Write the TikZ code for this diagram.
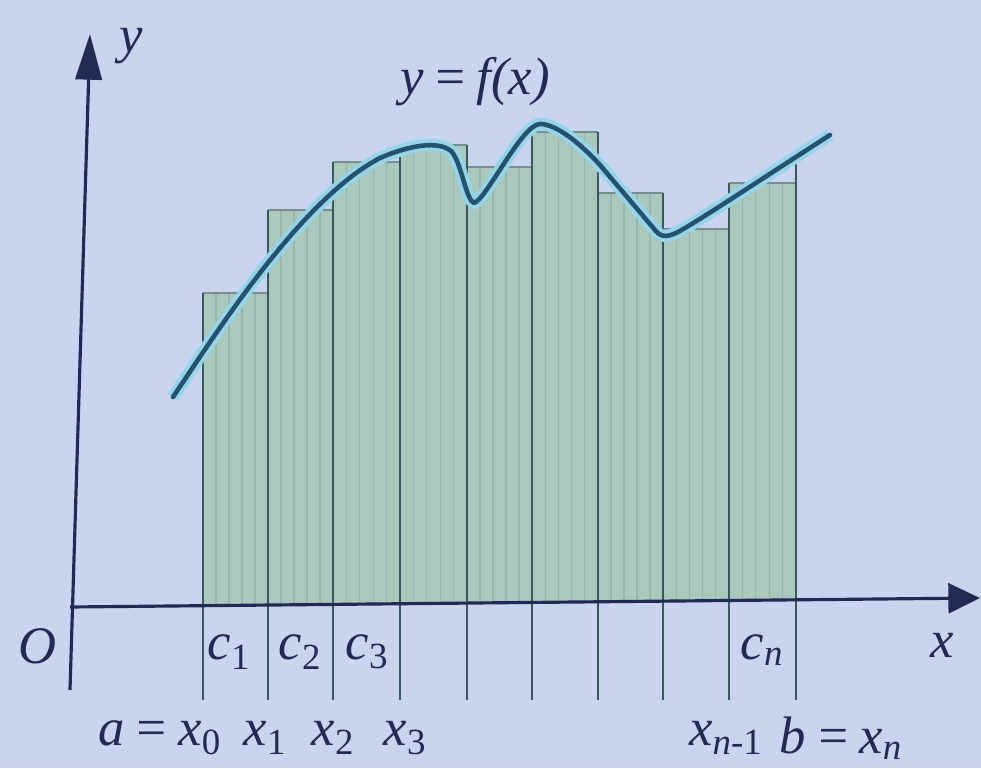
\documentclass[tikz,border=0pt]{standalone}
\usepackage{fontspec}
\setmainfont{Liberation Serif}
\usetikzlibrary{arrows.meta}
\definecolor{bgcol}{RGB}{201,213,239}
\definecolor{fillcol}{RGB}{170,201,188}
\definecolor{finecol}{RGB}{150,184,172}
\definecolor{edgecol}{RGB}{120,140,150}
\definecolor{divcol}{RGB}{55,88,92}
\definecolor{inkcol}{RGB}{32,42,82}
\definecolor{curvecol}{RGB}{36,82,112}
\definecolor{glowcol}{RGB}{150,212,232}

\begin{document}
\begin{tikzpicture}[
    x=0.02cm, y=-0.02cm,
    lbl/.style={text=inkcol, font=\fontsize{30}{32}\selectfont\itshape, inner sep=0pt},
    bar/.style={fill=fillcol},
    bartop/.style={draw=edgecol, line width=0.6pt},
    fine/.style={draw=finecol, line width=0.6pt},
    divline/.style={draw=divcol, line width=1.3pt},
    xax/.style={draw=inkcol, line width=1.8pt, -{Triangle[length=18pt, width=17pt]}},
    yax/.style={draw=inkcol, line width=1.8pt, -{Triangle[length=26pt, width=15pt]}},
    crv/.style={draw=curvecol, line width=2.6pt, line join=round, line cap=round,
      preaction={draw=glowcol, line width=7pt}}
  ]
    \useasboundingbox[fill=bgcol] (0,0) rectangle (981,768);

    % --- rectangles ---
    \foreach \xl/\xr/\top in {203/268/293, 268/333/210, 333/400/162, 400/467/145,
        467/532/167, 532/598/132, 598/663/193, 663/729/229, 729/796/183} {
      \pgfmathsetmacro{\base}{607-9*(\xl-70)/908}
      \fill[bar] (\xl,\base) rectangle (\xr,\top);
      \foreach \k in {1,...,4}
        \draw[fine] ({\xl+\k*(\xr-\xl)/5},\base) -- ({\xl+\k*(\xr-\xl)/5},\top);
      \draw[bartop] (\xl,\top) -- (\xr,\top);
    }

    % --- division lines ---
    \foreach \xx/\top in {203/293, 268/210, 333/162, 400/145, 467/145,
        532/132, 598/132, 663/193, 729/183, 796/162}
      \draw[divline] (\xx,\top) -- (\xx,700);

    % --- axes ---
    \coordinate (org) at (70,607);
    \coordinate (xend) at (980,598);
    \coordinate (ybot) at (70,690);
    \coordinate (yend) at (90,34);
    \draw[xax] (org) -- (xend);
    \draw[yax] (ybot) -- (yend);

    % --- curve ---
    \draw[crv] (173,397) .. controls (215,335) and (300,200) .. (380,158)
      .. controls (410,145) and (440,140) .. (452,152)
      .. controls (462,165) and (466,200) .. (474,203)
      .. controls (486,200) and (522,124) .. (540,124)
      .. controls (556,124) and (580,143) .. (600,165)
      -- (655,230) .. controls (661,238) and (668,237) .. (678,232)
      .. controls (700,220) and (760,180) .. (830,135);

    % --- labels ---
    \node[lbl] (ylab) at (131,46) {y};
    \node[lbl] (flab) at (475,82) {y\,=\,f(x)};
    \node[lbl] (xlab) at (942,645) {x};
    \node[lbl] (olab) at (38,646) {O};
    \node[lbl] (c1) at (229,652) {c\textsubscript{\upshape 1}};
    \node[lbl] (c2) at (300,652) {c\textsubscript{\upshape 2}};
    \node[lbl] (c3) at (367,652) {c\textsubscript{\upshape 3}};
    \node[lbl] (cn) at (762,650) {c\textsubscript{n}};
    \node[lbl] (x0) at (160,738) {a\,=\,x\textsubscript{\upshape 0}};
    \node[lbl] (x1) at (265,738) {x\textsubscript{\upshape 1}};
    \node[lbl] (x2) at (333,738) {x\textsubscript{\upshape 2}};
    \node[lbl] (x3) at (405,738) {x\textsubscript{\upshape 3}};
    \node[lbl] (xn1) at (726,738) {x\textsubscript{n\upshape -1}};
    \node[lbl] (xn) at (841,738) {b\,=\,x\textsubscript{n}};
\end{tikzpicture}
\end{document}
